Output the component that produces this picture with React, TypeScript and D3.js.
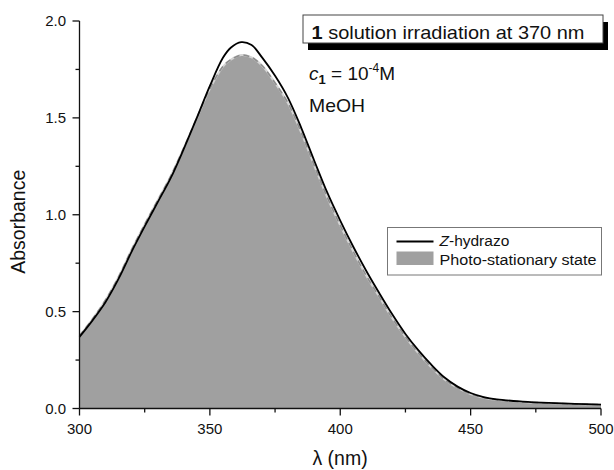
import React from "react";
import * as d3 from "d3";

const wavelengths = [300, 305, 310, 315, 320, 325, 330, 335, 340, 345, 350, 355, 358, 362, 366, 370, 375, 380, 385, 390, 395, 400, 405, 410, 415, 420, 425, 430, 435, 440, 445, 450, 455, 460, 470, 480, 490, 500];
const zHydrazo = [0.37, 0.455, 0.55, 0.67, 0.81, 0.94, 1.065, 1.19, 1.34, 1.5, 1.665, 1.81, 1.862, 1.891, 1.876, 1.812, 1.717, 1.602, 1.45, 1.28, 1.115, 0.97, 0.835, 0.71, 0.595, 0.485, 0.385, 0.3, 0.225, 0.16, 0.113, 0.08, 0.059, 0.047, 0.036, 0.029, 0.024, 0.02];
const photoStationary = [0.375, 0.462, 0.56, 0.68, 0.82, 0.95, 1.075, 1.2, 1.345, 1.5, 1.65, 1.765, 1.8, 1.824, 1.812, 1.77, 1.68, 1.575, 1.425, 1.255, 1.09, 0.945, 0.81, 0.685, 0.575, 0.465, 0.37, 0.285, 0.212, 0.15, 0.106, 0.075, 0.056, 0.045, 0.034, 0.028, 0.023, 0.02];

const xMajorTicks = [300, 350, 400, 450, 500];
const xMinorTicks = [325, 375, 425, 475];
const yMajorTicks = [0.0, 0.5, 1.0, 1.5, 2.0];
const yMinorTicks = [0.25, 0.75, 1.25, 1.75];

const FONT = "'Liberation Sans', Arial, sans-serif";

export default function App() {
  const x = d3.scaleLinear().domain([300, 500]).range([79.5, 601]);
  const y = d3.scaleLinear().domain([0, 2]).range([408.5, 21]);

  const zData = wavelengths.map((w, i) => ({ w, a: zHydrazo[i] }));
  const pData = wavelengths.map((w, i) => ({ w, a: photoStationary[i] }));

  const area = d3
    .area<{ w: number; a: number }>()
    .x((d) => x(d.w))
    .y0(y(0))
    .y1((d) => y(d.a))
    .curve(d3.curveCatmullRom);
  const line = d3
    .line<{ w: number; a: number }>()
    .x((d) => x(d.w))
    .y((d) => y(d.a))
    .curve(d3.curveCatmullRom);

  const x0 = x(300);
  const y0 = y(0);

  return (
    <svg
      width={614}
      height={470}
      style={{ position: "absolute", left: 0, top: 0, background: "#fff" }}
      fontFamily={FONT}
    >
      <rect x={0} y={0} width={614} height={470} fill="#fff" />
      {/* photo-stationary fill */}
      <path d={area(pData) || ""} fill="#a0a0a0" stroke="none" />
      <path d={line(pData) || ""} fill="none" stroke="#d4d4d4" strokeWidth={2} />
      <path d={line(pData) || ""} fill="none" stroke="#8e8e8e" strokeWidth={1.6} strokeDasharray="6,4" />
      {/* Z-hydrazo line */}
      <path d={line(zData) || ""} fill="none" stroke="#000" strokeWidth={1.8} />

      {/* axes */}
      <line x1={x0} x2={x(500)} y1={y0} y2={y0} stroke="#111" strokeWidth={1.3} />
      <line x1={x0} x2={x0} y1={y0} y2={y(2)} stroke="#111" strokeWidth={1.3} />
      {xMajorTicks.map((t) => (
        <g key={"xm" + t}>
          <line x1={x(t)} x2={x(t)} y1={y0} y2={y0 + 7} stroke="#111" strokeWidth={1.3} />
          <text x={x(t)} y={434} textAnchor="middle" fontSize={15} fill="#111">
            {t}
          </text>
        </g>
      ))}
      {xMinorTicks.map((t) => (
        <line key={"xn" + t} x1={x(t)} x2={x(t)} y1={y0} y2={y0 + 4} stroke="#111" strokeWidth={1.3} />
      ))}
      {yMajorTicks.map((t) => (
        <g key={"ym" + t}>
          <line x1={x0} x2={x0 - 7} y1={y(t)} y2={y(t)} stroke="#111" strokeWidth={1.3} />
          <text x={66} y={y(t) + 5.3} textAnchor="end" fontSize={15} fill="#111">
            {t.toFixed(1)}
          </text>
        </g>
      ))}
      {yMinorTicks.map((t) => (
        <line key={"yn" + t} x1={x0} x2={x0 - 4} y1={y(t)} y2={y(t)} stroke="#111" strokeWidth={1.3} />
      ))}

      {/* axis titles */}
      <text x={340} y={465} textAnchor="middle" fontSize={19.5} fill="#111">
        λ (nm)
      </text>
      <text
        transform={`translate(25,${(y(0) + y(2)) / 2 + 7}) rotate(-90)`}
        textAnchor="middle"
        fontSize={19.5}
        fill="#111"
      >
        Absorbance
      </text>

      {/* title box */}
      <rect x={308} y={22} width={300} height={28} fill="#000" />
      <rect x={303} y={15} width={300} height={28} fill="#fff" stroke="#444" strokeWidth={1} />
      <text x={311.5} y={39} fontSize={19} fill="#111" textLength={273} lengthAdjust="spacingAndGlyphs">
        <tspan fontWeight="bold">1</tspan>
        <tspan> solution irradiation at 370 nm</tspan>
      </text>
      <text x={309} y={80} fontSize={19} fill="#111">
        <tspan fontStyle="italic">c</tspan>
        <tspan fontSize={13} fontWeight="bold" dy={4}>1</tspan>
        <tspan dy={-4}> = 10</tspan>
        <tspan fontSize={12} dy={-8}>-4</tspan>
        <tspan dy={8}>M</tspan>
      </text>
      <text x={309} y={111.5} fontSize={19} fill="#111" textLength={56} lengthAdjust="spacingAndGlyphs">
        MeOH
      </text>

      {/* legend */}
      <rect x={387.5} y={227.5} width={214} height={47.5} fill="#fff" stroke="#777" strokeWidth={1} />
      <line x1={396.5} x2={433.5} y1={241.5} y2={241.5} stroke="#000" strokeWidth={1.8} />
      <rect x={396.5} y={251.5} width={37} height={13.5} fill="#a0a0a0" />
      <text x={439.5} y={245.5} fontSize={15.5} fill="#111">
        <tspan fontStyle="italic">Z</tspan>-hydrazo
      </text>
      <text x={439.5} y={264.5} fontSize={15.5} fill="#111" textLength={157} lengthAdjust="spacingAndGlyphs">
        Photo-stationary state
      </text>
    </svg>
  );
}
